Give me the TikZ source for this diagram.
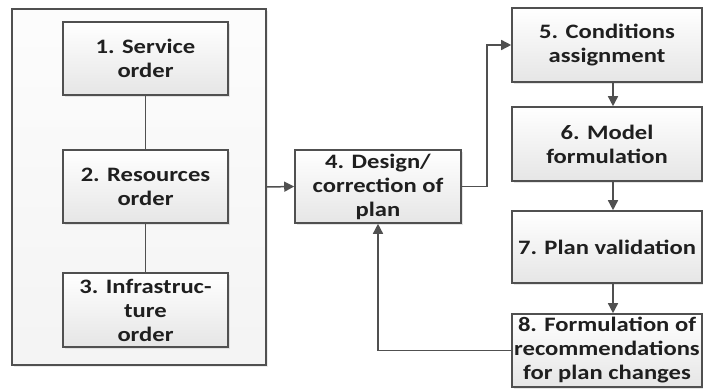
\documentclass[tikz,border=0pt]{standalone}
\usepackage{fontspec}
\newfontfamily\boxfont{Carlito}[FakeStretch=1.2]
\usetikzlibrary{arrows.meta,shadows}
\definecolor{edge}{HTML}{505050}
\tikzset{
  box/.style={draw=edge, line width=1.6pt, top color=white, bottom color=gray!20,
    drop shadow={shadow xshift=2pt, shadow yshift=-2pt, fill=gray!40, opacity=0.5},
    inner sep=0pt, align=center, text=black!88,
    font=\boxfont\bfseries\fontsize{20.5}{24}\selectfont},
  outerbox/.style={draw=edge, line width=1.6pt, top color=gray!2, bottom color=gray!9,
    drop shadow={shadow xshift=2pt, shadow yshift=-2pt, fill=gray!30, opacity=0.5},
    inner sep=0pt},
  link/.style={draw=edge, line width=1.5pt},
  arr/.style={link, -{Triangle[length=10pt,width=10pt]}}
}
\begin{document}
\begin{tikzpicture}[x=1pt,y=1pt]
\useasboundingbox (0,0) rectangle (703,-388);
\node[outerbox, minimum width=254pt, minimum height=356pt] (outer) at (139,-187) {};
\node[box, minimum width=165pt, minimum height=73pt] (b1) at (145.5,-58.5) {1. Service\\order};
\node[box, minimum width=165pt, minimum height=73pt] (b2) at (145.5,-186.5) {2. Resources\\order};
\node[box, minimum width=165pt, minimum height=74pt] (b3) at (145.5,-310) {3. Infrastruc-\\ture\\order};
\node[box, minimum width=166pt, minimum height=73pt] (b4) at (378,-186.5) {4. Design/\\correction of\\plan};
\node[box, minimum width=190pt, minimum height=74pt] (b5) at (607,-45) {5. Conditions\\assignment};
\node[box, minimum width=190pt, minimum height=74pt] (b6) at (607,-144) {6. Model\\formulation};
\node[box, minimum width=190pt, minimum height=72pt] (b7) at (607,-247) {7. Plan validation};
\node[box, minimum width=190pt, minimum height=73pt] (b8) at (607,-350.5) {8. Formulation of\\recommendations\\for plan changes};
\draw[link] (b1.south) -- (b2.north);
\draw[link] (b2.south) -- (b3.north);
\draw[arr] (outer.east) -- (b4.west);
\draw[arr] (b4.east) -- ++(25,0) |- (b5.west);
\draw[arr] ([xshift=6pt]b5.south) -- ([xshift=6pt]b6.north);
\draw[arr] ([xshift=6pt]b6.south) -- ([xshift=6pt]b7.north);
\draw[arr] ([xshift=6pt]b7.south) -- ([xshift=6pt]b8.north);
\draw[arr] (b8.west) -| (b4.south);
\end{tikzpicture}
\end{document}
